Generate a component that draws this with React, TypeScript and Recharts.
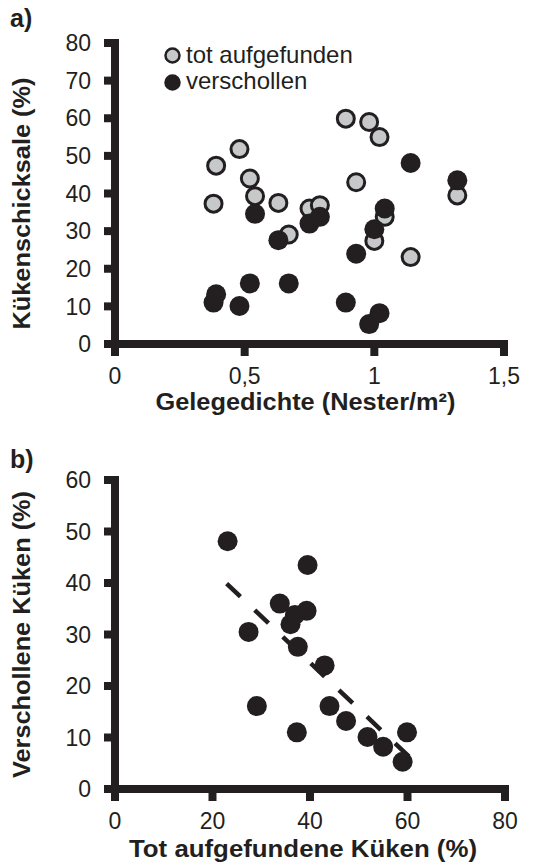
import React from 'react';
import {
  ScatterChart,
  Scatter,
  XAxis,
  YAxis,
  Legend,
  ReferenceLine,
} from 'recharts';

// nest density per colony (Nester/m²)
const nestDensity = [0.38, 0.39, 0.48, 0.52, 0.54, 0.63, 0.67, 0.75, 0.79, 0.89, 0.93, 0.98, 1.0, 1.02, 1.04, 1.14, 1.32];
// chicks found dead (%)
const foundDead = [37.3, 47.4, 51.8, 44.0, 39.3, 37.5, 29.1, 36.0, 36.9, 59.9, 43.0, 59.0, 27.4, 55.0, 33.8, 23.1, 39.5];
// chicks missing (%)
const missing = [11.0, 13.2, 10.1, 16.1, 34.6, 27.6, 16.1, 32.0, 33.8, 11.0, 24.0, 5.3, 30.5, 8.2, 36.0, 48.1, 43.5];

const densityTicks = [0, 0.5, 1, 1.5];
const fateTicks = [0, 10, 20, 30, 40, 50, 60, 70, 80];
const deadTicks = [0, 20, 40, 60, 80];
const missingTicks = [0, 10, 20, 30, 40, 50, 60];

// regression line end points
const trendX = [22.9, 60.3];
const trendY = [39.9, 6.3];

const DARK = '#231f20';
const GREY = '#c6c8ca';
const FONT = '"Liberation Sans", Arial, sans-serif';

const deadData = nestDensity.map((x, i) => ({ x, y: foundDead[i] }));
const missingData = nestDensity.map((x, i) => ({ x, y: missing[i] }));
const pairData = foundDead.map((x, i) => ({ x, y: missing[i] }));

const tickStyle = { fill: DARK, fontSize: 23, fontFamily: FONT };
const axisLine = { stroke: DARK, strokeWidth: 8, strokeLinecap: 'square' as const };
const tickLine = { stroke: DARK, strokeWidth: 8 };

const GreyDot = (p: any) => (
  <circle cx={p.cx} cy={p.cy} r={8.5} fill={GREY} stroke={DARK} strokeWidth={3} />
);
const DarkDot = (p: any) => <circle cx={p.cx} cy={p.cy} r={10} fill={DARK} />;

// the original titles are a bit wider than Arial, so stretch them with textLength
const YTitle = ({ viewBox, value, len, dy = 0 }: any) => {
  const x = 30;
  const cy = viewBox.y + viewBox.height / 2 + dy;
  return (
    <text
      x={x}
      y={cy}
      transform={`rotate(-90 ${x} ${cy})`}
      textAnchor="middle"
      textLength={len}
      lengthAdjust="spacingAndGlyphs"
      fill={DARK}
      fontSize={23.5}
      fontWeight="bold"
      fontFamily={FONT}
    >
      {value}
    </text>
  );
};

const XTitle = ({ viewBox, value, len, dx = 0 }: any) => (
  <text
    x={viewBox.x + viewBox.width / 2 + dx}
    y={viewBox.y + viewBox.height}
    textAnchor="middle"
    textLength={len}
    lengthAdjust="spacingAndGlyphs"
    fill={DARK}
    fontSize={23.5}
    fontWeight="bold"
    fontFamily={FONT}
  >
    {value}
  </text>
);

const LegendBox = () => (
  <div style={{ fontFamily: FONT, fontSize: 24, lineHeight: '26.7px', color: DARK, whiteSpace: 'nowrap' }}>
    {[
      { label: 'tot aufgefunden', fill: GREY },
      { label: 'verschollen', fill: DARK },
    ].map((item) => (
      <div key={item.label} style={{ display: 'flex', alignItems: 'center', height: 26.7 }}>
        <svg width={17} height={17} style={{ marginRight: 5, position: 'relative', top: 1 }}>
          <circle cx={8.5} cy={8.5} r={7} fill={item.fill} stroke={DARK} strokeWidth={2.5} />
        </svg>
        <span>{item.label}</span>
      </div>
    ))}
  </div>
);

const panelLetter = (top: number): React.CSSProperties => ({
  position: 'absolute',
  left: 10,
  top,
  fontFamily: FONT,
  fontSize: 25,
  fontWeight: 'bold',
  color: DARK,
});

export default function App() {
  return (
    <div style={{ position: 'absolute', left: 0, top: 0, width: 533, height: 867, background: '#fff' }}>
      <div style={panelLetter(4)}>a)</div>
      <div style={panelLetter(445)}>b)</div>

      <div style={{ position: 'absolute', left: 0, top: 0 }}>
        <ScatterChart width={533} height={430} margin={{ top: 43, right: 29, bottom: 20, left: 55 }}>
          <XAxis
            type="number"
            dataKey="x"
            domain={[0, 1.5]}
            ticks={densityTicks}
            tickFormatter={(v: number) => String(v).replace('.', ',')}
            height={66}
            tick={tickStyle}
            tickSize={12}
            tickMargin={12}
            axisLine={axisLine}
            tickLine={tickLine}
            label={<XTitle value="Gelegedichte (Nester/m²)" len={300} dx={-4} />}
          />
          <YAxis
            type="number"
            dataKey="y"
            domain={[0, 80]}
            ticks={fateTicks}
            width={60}
            tick={tickStyle}
            tickSize={11}
            tickMargin={13}
            axisLine={axisLine}
            tickLine={tickLine}
            label={<YTitle value="Kükenschicksale (%)" len={252} dy={10} />}
          />
          <Legend
            layout="vertical"
            align="center"
            verticalAlign="middle"
            content={<LegendBox />}
            wrapperStyle={{ top: 41.5, left: 164, width: 'auto' }}
          />
          <Scatter name="tot aufgefunden" data={deadData} shape={GreyDot} isAnimationActive={false} />
          <Scatter name="verschollen" data={missingData} shape={DarkDot} isAnimationActive={false} />
        </ScatterChart>
      </div>

      <div style={{ position: 'absolute', left: 0, top: 430 }}>
        <ScatterChart width={533} height={437} margin={{ top: 50, right: 28, bottom: 10, left: 55 }}>
          <XAxis
            type="number"
            dataKey="x"
            domain={[0, 80]}
            ticks={deadTicks}
            height={68}
            tick={tickStyle}
            tickSize={12}
            tickMargin={12}
            axisLine={axisLine}
            tickLine={tickLine}
            label={<XTitle value="Tot aufgefundene Küken (%)" len={348} dx={-7} />}
          />
          <YAxis
            type="number"
            dataKey="y"
            domain={[0, 60]}
            ticks={missingTicks}
            width={60}
            tick={tickStyle}
            tickSize={11}
            tickMargin={13}
            axisLine={axisLine}
            tickLine={tickLine}
            label={<YTitle value="Verschollene Küken (%)" len={287} />}
          />
          <ReferenceLine
            segment={[
              { x: trendX[0], y: trendY[0] },
              { x: trendX[1], y: trendY[1] },
            ]}
            stroke={DARK}
            strokeWidth={4.5}
            strokeDasharray="19 19.7"
          />
          <Scatter data={pairData} shape={DarkDot} isAnimationActive={false} />
        </ScatterChart>
      </div>
    </div>
  );
}
